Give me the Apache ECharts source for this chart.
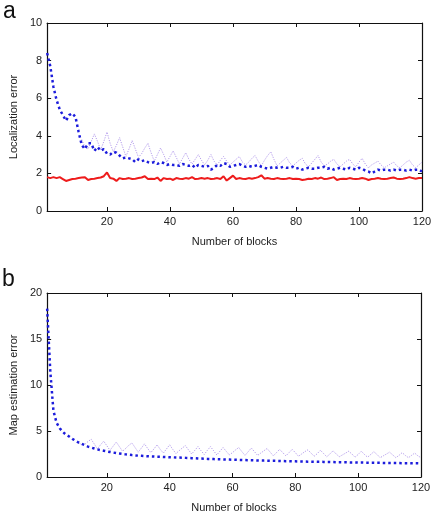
<!DOCTYPE html>
<html>
<head>
<meta charset="utf-8">
<script src="https://cdn.jsdelivr.net/npm/echarts@6/dist/echarts.min.js"></script>
<style>
  html, body { margin: 0; padding: 0; background: #fff; }
  #chart { width: 435px; height: 517px; }
</style>
</head>
<body>
<div id="chart"></div>
<script>
// block numbers 1..120 (x axis of both panels)
var blocks = []
for (var b = 1; b <= 120; b++) blocks.push(b)
var xTicks = [20, 40, 60, 80, 100, 120]

// panel a - localization error
var locBlue = [
  8.4, 7.7, 6.6, 5.9, 5.4, 5.1, 4.8, 5.1, 5.2, 5.0,
  4.2, 3.5, 3.3, 3.6, 3.6, 3.2, 3.4, 3.2, 3.3, 3.05,
  3.0, 3.15, 3.1, 2.95, 2.8, 2.85, 2.8, 2.75, 2.6, 2.75,
  2.65, 2.7, 2.6, 2.55, 2.6, 2.5, 2.6, 2.55, 2.45, 2.5,
  2.45, 2.45, 2.4, 2.5, 2.45, 2.4, 2.45, 2.3, 2.45, 2.4,
  2.35, 2.4, 2.2, 2.3, 2.45, 2.4, 2.55, 2.5, 2.35, 2.4,
  2.45, 2.5, 2.4, 2.35, 2.4, 2.35, 2.4, 2.45, 2.35, 2.3,
  2.25, 2.3, 2.35, 2.3, 2.3, 2.35, 2.3, 2.3, 2.35, 2.25,
  2.3, 2.2, 2.25, 2.3, 2.25, 2.25, 2.3, 2.3, 2.35, 2.25,
  2.3, 2.2, 2.25, 2.3, 2.25, 2.2, 2.3, 2.25, 2.2, 2.3,
  2.25, 2.15, 2.1, 2.0, 2.1, 2.2, 2.15, 2.2, 2.2, 2.15,
  2.2, 2.15, 2.2, 2.2, 2.15, 2.2, 2.15, 2.2, 2.2, 2.1
]
var locRed = [
  1.8, 1.75, 1.8, 1.75, 1.8, 1.7, 1.6, 1.65, 1.7, 1.72,
  1.75, 1.78, 1.8, 1.65, 1.7, 1.72, 1.75, 1.78, 1.85, 2.05,
  1.75, 1.72, 1.6, 1.75, 1.7, 1.72, 1.75, 1.7, 1.72, 1.75,
  1.78, 1.85, 1.7, 1.72, 1.7, 1.78, 1.6, 1.75, 1.7, 1.72,
  1.65, 1.75, 1.72, 1.7, 1.75, 1.72, 1.8, 1.7, 1.72, 1.75,
  1.72, 1.75, 1.7, 1.72, 1.75, 1.7, 1.85, 1.62, 1.75, 1.88,
  1.7, 1.75, 1.72, 1.7, 1.75, 1.72, 1.75, 1.8, 1.9, 1.72,
  1.75, 1.72, 1.7, 1.75, 1.72, 1.7, 1.72, 1.75, 1.7, 1.72,
  1.7, 1.65, 1.68, 1.72, 1.7, 1.75, 1.72, 1.78, 1.7, 1.72,
  1.75, 1.8, 1.65, 1.7, 1.72, 1.7, 1.75, 1.72, 1.7, 1.72,
  1.75, 1.72, 1.65, 1.7, 1.72, 1.75, 1.72, 1.7, 1.72, 1.75,
  1.78, 1.72, 1.7, 1.72, 1.75, 1.8, 1.75, 1.72, 1.75, 1.75
]
var locLight = [
  null, null, null, null, null, null, null, null, null, null,
  null, 3.8, 3.4, 3.3, 3.7, 4.1, 3.7, 3.25, 3.7, 4.2,
  3.6, 3.15, 3.5, 3.9, 3.4, 2.9, 3.3, 3.75, 3.3, 2.85,
  3.05, 3.35, 3.6, 3.1, 2.65, 3.0, 3.35, 3.0, 2.6, 2.9,
  3.2, 2.85, 2.5, 2.8, 3.1, 2.75, 2.5, 2.75, 3.0, 2.7,
  2.45, 2.7, 3.0, 2.65, 2.45, 2.7, 2.9, 2.65, 2.45, 2.6,
  2.75, 2.9, 2.6, 2.45, 2.6, 2.8, 2.95, 2.65, 2.4, 2.7,
  2.95, 3.15, 2.75, 2.4, 2.55, 2.7, 2.85, 2.55, 2.4, 2.55,
  2.7, 2.8, 2.5, 2.35, 2.55, 2.75, 2.95, 2.6, 2.4, 2.5,
  2.65, 2.75, 2.5, 2.35, 2.5, 2.65, 2.75, 2.5, 2.35, 2.6,
  2.8, 2.5, 2.3, 2.45, 2.55, 2.65, 2.45, 2.3, 2.4, 2.5,
  2.6, 2.4, 2.3, 2.45, 2.6, 2.7, 2.45, 2.3, 2.45, 2.6
]

// panel b - map estimation error
var mapBlue = [
  18.3, 11.5, 7.2, 5.9, 5.3, 4.9, 4.6, 4.4, 4.15, 3.95,
  3.75, 3.6, 3.45, 3.3, 3.2, 3.1, 3.0, 2.92, 2.85, 2.78,
  2.72, 2.66, 2.6, 2.55, 2.5, 2.46, 2.42, 2.38, 2.35, 2.32,
  2.3, 2.28, 2.26, 2.24, 2.23, 2.21, 2.2, 2.18, 2.17, 2.15,
  2.14, 2.12, 2.11, 2.1, 2.08, 2.07, 2.05, 2.04, 2.02, 2.0,
  1.99, 1.97, 1.96, 1.95, 1.93, 1.92, 1.91, 1.9, 1.89, 1.88,
  1.87, 1.86, 1.85, 1.84, 1.83, 1.82, 1.81, 1.8, 1.79, 1.78,
  1.77, 1.76, 1.76, 1.75, 1.74, 1.73, 1.72, 1.72, 1.71, 1.7,
  1.69, 1.69, 1.68, 1.67, 1.67, 1.66, 1.65, 1.65, 1.64, 1.63,
  1.63, 1.62, 1.61, 1.61, 1.6, 1.6, 1.59, 1.58, 1.58, 1.57,
  1.57, 1.56, 1.56, 1.55, 1.55, 1.54, 1.54, 1.53, 1.53, 1.52,
  1.52, 1.51, 1.51, 1.5, 1.5, 1.5, 1.49, 1.49, 1.49, 1.48
]
var mapLight = [
  null, null, null, null, null, null, null, null, null, null,
  3.75, 3.5, 3.55, 3.85, 4.1, 3.6, 3.05, 3.5, 3.9, 3.4,
  2.9, 3.35, 3.8, 3.3, 2.8, 3.1, 3.45, 3.7, 3.2, 2.7,
  3.15, 3.6, 3.1, 2.65, 3.05, 3.5, 3.0, 2.6, 3.05, 3.5,
  3.0, 2.55, 2.85, 3.15, 3.4, 2.95, 2.5, 2.9, 3.3, 2.85,
  2.45, 2.9, 3.3, 2.85, 2.4, 2.8, 3.2, 2.8, 2.4, 2.65,
  2.95, 3.2, 2.75, 2.35, 2.75, 3.15, 2.75, 2.35, 2.6, 2.85,
  3.1, 2.7, 2.3, 2.65, 3.0, 2.65, 2.3, 2.65, 3.0, 2.65,
  2.25, 2.5, 2.75, 2.95, 2.6, 2.25, 2.55, 2.9, 2.55, 2.2,
  2.5, 2.85, 2.5, 2.2, 2.4, 2.6, 2.8, 2.5, 2.15, 2.45,
  2.8, 2.45, 2.15, 2.45, 2.75, 2.45, 2.1, 2.3, 2.5, 2.7,
  2.4, 2.1, 2.35, 2.65, 2.35, 2.1, 2.35, 2.6, 2.3, 2.1
]

function pairs(vals) {
  return blocks.map(function (x, i) { return [x, vals[i]] })
}

var FONT = '"Liberation Sans", Arial, sans-serif'
var axisCol = '#111'
var textCol = '#222'

function xAxisFor(grid, main) {
  return {
    type: 'value', gridIndex: grid, min: 1, max: 120,
    position: main ? 'bottom' : 'top',
    name: main ? 'Number of blocks' : '',
    nameLocation: 'middle', nameGap: 25,
    nameTextStyle: { fontFamily: FONT, fontSize: 11, color: textCol },
    axisLine: { show: true, onZero: false, lineStyle: { color: axisCol, width: 1.2 } },
    axisTick: { show: true, inside: true, length: 4, customValues: xTicks, lineStyle: { color: axisCol } },
    axisLabel: { show: main, customValues: xTicks, margin: 5, fontFamily: FONT, fontSize: 11, color: textCol },
    splitLine: { show: false }
  }
}
function yAxisFor(grid, main, max, step, name) {
  return {
    type: 'value', gridIndex: grid, min: 0, max: max, interval: step,
    position: main ? 'left' : 'right',
    name: main ? name : '',
    nameLocation: 'middle', nameGap: 28, nameRotate: 90,
    nameTextStyle: { fontFamily: FONT, fontSize: 11, color: textCol },
    axisLine: { show: true, onZero: false, lineStyle: { color: axisCol, width: 1.2 } },
    axisTick: { show: true, inside: true, length: 4, lineStyle: { color: axisCol } },
    axisLabel: { show: main, margin: 5, fontFamily: FONT, fontSize: 11, color: textCol },
    splitLine: { show: false }
  }
}

var chart = echarts.init(document.getElementById('chart'), null, { renderer: 'canvas' })
chart.setOption({
  animation: false,
  backgroundColor: '#fff',
  grid: [
    { left: 42, right: 13, top: 23, height: 188 },
    { left: 42, right: 14, top: 293, height: 184 }
  ],
  xAxis: [xAxisFor(0, true), xAxisFor(0, false), xAxisFor(1, true), xAxisFor(1, false)],
  yAxis: [
    yAxisFor(0, true, 10, 2, 'Localization error'),
    yAxisFor(0, false, 10, 2, ''),
    yAxisFor(1, true, 20, 5, 'Map estimation error'),
    yAxisFor(1, false, 20, 5, '')
  ],
  graphic: [
    { type: 'text', left: 3, top: 0, style: { text: 'a', font: '23px ' + FONT, fill: '#111' } },
    { type: 'text', left: 2, top: 268, style: { text: 'b', font: '23px ' + FONT, fill: '#111' } }
  ],
  series: [
    {
      type: 'line', xAxisIndex: 0, yAxisIndex: 0, data: pairs(locLight), symbol: 'none',
      lineStyle: { color: '#b49ced', width: 1, type: [1.2, 1.3] }
    },
    {
      type: 'line', xAxisIndex: 0, yAxisIndex: 0, data: pairs(locBlue), symbol: 'none',
      lineStyle: { color: '#1c1cdc', width: 2.5, type: [2.5, 3] }
    },
    {
      type: 'line', xAxisIndex: 0, yAxisIndex: 0, data: pairs(locRed), symbol: 'none',
      lineStyle: { color: '#ee1c1c', width: 2 }
    },
    {
      type: 'line', xAxisIndex: 2, yAxisIndex: 2, data: pairs(mapLight), symbol: 'none',
      lineStyle: { color: '#b49ced', width: 1, type: [1.2, 1.3] }
    },
    {
      type: 'line', xAxisIndex: 2, yAxisIndex: 2, data: pairs(mapBlue), symbol: 'none',
      lineStyle: { color: '#1c1cdc', width: 2.5, type: [2.5, 3] }
    }
  ]
})
</script>
</body>
</html>
